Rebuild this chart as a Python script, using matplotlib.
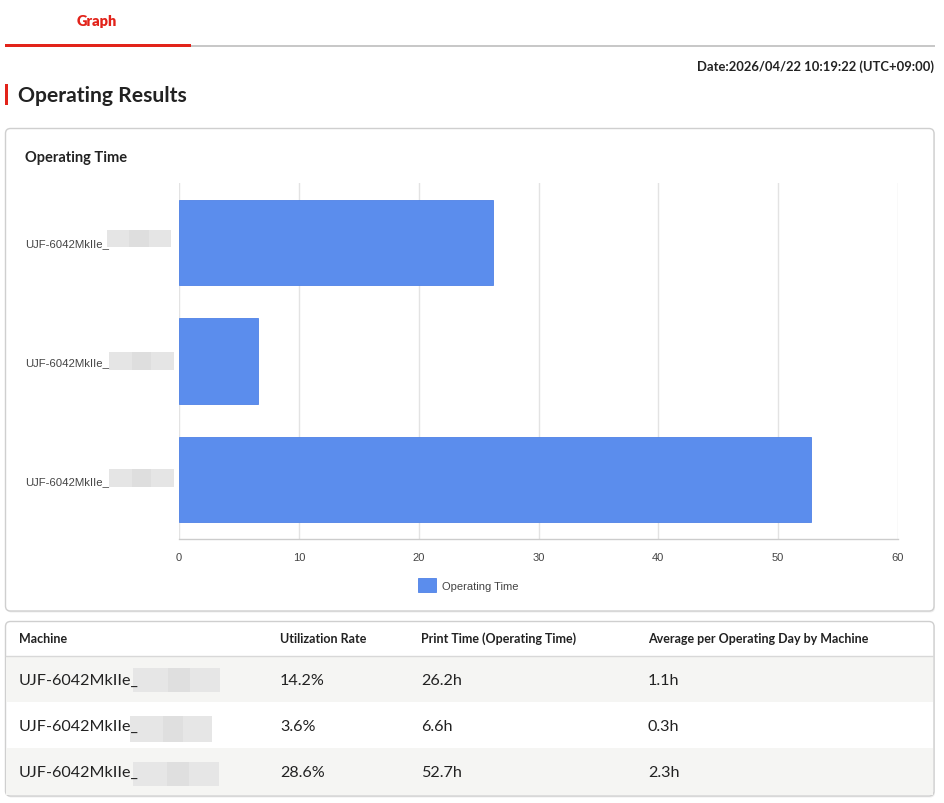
import matplotlib
matplotlib.use("Agg")
import matplotlib.pyplot as plt
from matplotlib.patches import Rectangle, FancyBboxPatch

# ---- data ----
machines = ["UJF-6042MkIIe_", "UJF-6042MkIIe_", "UJF-6042MkIIe_"]
operating_time = [26.2, 6.6, 52.7]
utilization_rate = [14.2, 3.6, 28.6]
avg_per_day = [1.1, 0.3, 2.3]
x_ticks = [0, 10, 20, 30, 40, 50, 60]
table_headers = ["Machine", "Utilization Rate", "Print Time (Operating Time)",
                 "Average per Operating Day by Machine"]
series_name = "Operating Time"

W, H = 945, 804
fig = plt.figure(figsize=(W / 100, H / 100), dpi=100)
fig.patch.set_facecolor("white")

UI = "Lato"
CH = "Liberation Sans"
RED = "#e2231a"
DARK = "#222222"
BLUE = "#5b8ded"

# background layer in pixel coordinates
bg = fig.add_axes([0, 0, 1, 1], zorder=0)
bg.set_xlim(0, W)
bg.set_ylim(H, 0)
bg.axis("off")

# tab
bg.text(97, 22, "Graph", color=RED, fontsize=10.5, fontweight="heavy",
        family=UI, ha="center", va="center")
bg.add_patch(Rectangle((190, 46), 745, 1.5, color="#c8c8c8", lw=0))
bg.add_patch(Rectangle((5, 44.5), 186, 3, color=RED, lw=0))

# date
bg.text(934, 67, "Date:2026/04/22 10:19:22 (UTC+09:00)", color=DARK,
        fontsize=9.4, fontweight="bold", family=UI, ha="right", va="center")

# title
bg.add_patch(Rectangle((5, 85), 3, 21, color=RED, lw=0))
bg.text(18, 96, "Operating Results", color=DARK, fontsize=15.2,
        fontweight="bold", family=UI, ha="left", va="center")

# cards
for (x0, y0, x1, y1) in [(5.5, 129.5, 934, 612), (5.5, 622.5, 934, 797)]:
    bg.add_patch(FancyBboxPatch((x0 + 1, y0 + 1.5), x1 - x0, y1 - y0,
                                boxstyle="round,pad=0,rounding_size=5",
                                fc="#eeeeee", ec="none", lw=0))
    bg.add_patch(FancyBboxPatch((x0, y0), x1 - x0, y1 - y0,
                                boxstyle="round,pad=0,rounding_size=5",
                                fc="white", ec="#cfcfcf", lw=1))

bg.text(25, 158, "Operating Time", color=DARK, fontsize=10.5,
        fontweight="bold", family=UI, ha="left", va="center")

# ---- bar chart ----
px0, px1, py0, py1 = 179, 898, 184, 540
ax = fig.add_axes([px0 / W, 1 - py1 / H, (px1 - px0) / W, (py1 - py0) / H],
                  zorder=1)
ax.patch.set_alpha(0)
ypos = list(range(len(machines)))
ax.barh(ypos, operating_time, height=0.72, color=BLUE, edgecolor="#4f82e6",
        linewidth=0.6, zorder=3, label=series_name)
ax.set_xlim(x_ticks[0], x_ticks[-1])
ax.set_ylim(len(machines) - 0.5, -0.5)
ax.set_xticks(x_ticks)
ax.set_xticklabels([str(t) for t in x_ticks], family=CH, fontsize=8,
                   color="#444444")
ax.set_yticks(ypos)
ax.set_yticklabels(machines, family=CH, fontsize=8.2, color="#444444",
                   ha="left")
ax.tick_params(axis="y", length=0, pad=(179 - 25) * 0.72)
ax.tick_params(axis="x", length=0, pad=9.5)
ax.grid(axis="x", color="#e3e3e3", lw=1, zorder=0)
for s in ["top", "right", "left"]:
    ax.spines[s].set_visible(False)
ax.spines["bottom"].set_color("#cccccc")
ax.spines["bottom"].set_linewidth(1)

leg = ax.legend(loc="upper left", bbox_to_anchor=(418 / W, 1 - 579 / H),
                bbox_transform=fig.transFigure, frameon=False, borderpad=0,
                borderaxespad=0, handlelength=1.6, handleheight=1.6,
                handletextpad=0.6, prop={"family": CH, "size": 8})
for t in leg.get_texts():
    t.set_color("#444444")

# redaction boxes beside chart labels
for (x, y, w, h) in [(107, 231, 64, 17), (109, 353, 65, 18), (109, 470, 65, 18)]:
    bg.add_patch(Rectangle((x, y), w, h, color="#e5e5e5", lw=0, zorder=2))
    bg.add_patch(Rectangle((x + w * 0.35, y), w * 0.3, h, color="#dedede",
                           lw=0, zorder=2))

# ---- table ----
col_x = [19, 280, 421, 648]
hdr_y = 639
bg.plot([6, 933], [656.5, 656.5], color="#d8d8d8", lw=1)
row_top = [657, 703, 749]
row_h = 46
for i, yt in enumerate(row_top):
    if i % 2 == 0:
        bg.add_patch(Rectangle((6, yt), 927, row_h if i < 2 else 47,
                               color="#f5f5f3", lw=0))
for j, htxt in enumerate(table_headers):
    bg.text(col_x[j], hdr_y, htxt, color=DARK, fontsize=9, fontweight="bold",
            family=UI, ha="left", va="center")
for i in range(len(machines)):
    yc = row_top[i] + row_h / 2 + 1
    vals = [machines[i], f"{utilization_rate[i]}%", f"{operating_time[i]}h",
            f"{avg_per_day[i]}h"]
    for j, v in enumerate(vals):
        bg.text(col_x[j], yc, v, color=DARK, fontsize=11.6, family=UI,
                ha="left", va="center")
for (x, y, w, h) in [(133, 669, 87, 24), (130, 717, 82, 26), (133, 763, 86, 24)]:
    bg.add_patch(Rectangle((x, y), w, h, color="#e6e6e6", lw=0, zorder=2))
    bg.add_patch(Rectangle((x + w * 0.4, y), w * 0.25, h, color="#dfdfdf",
                           lw=0, zorder=2))

fig.savefig("out.png", dpi=100, facecolor="white")
